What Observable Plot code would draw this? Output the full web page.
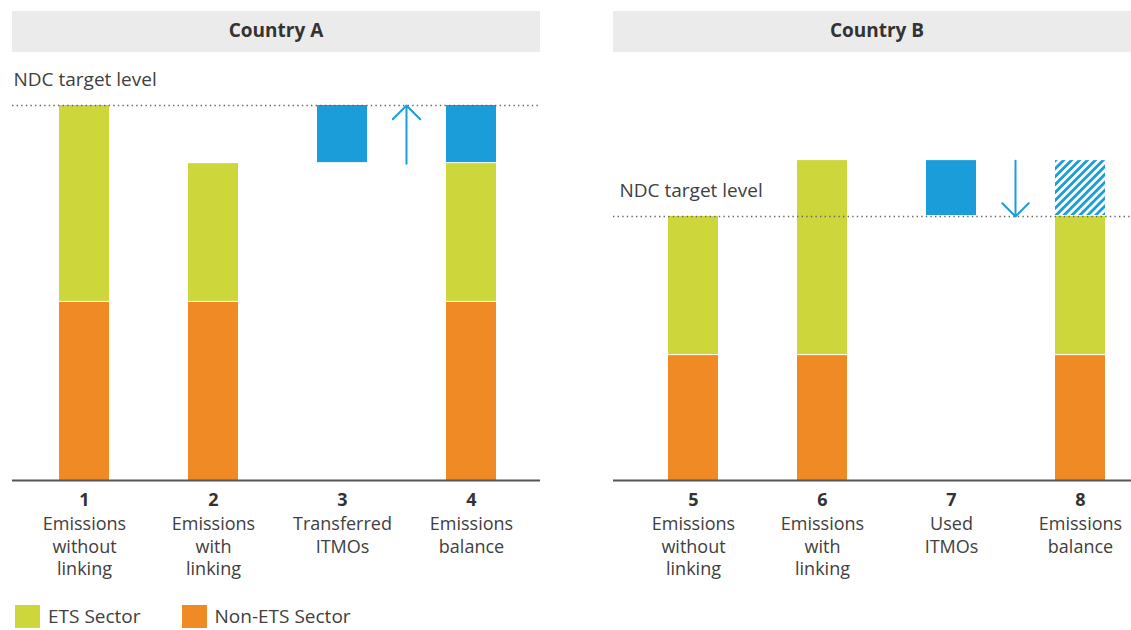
<!DOCTYPE html>
<html>
<head>
<meta charset="utf-8">
<script src="https://cdn.jsdelivr.net/npm/d3@7"></script>
<script src="https://cdn.jsdelivr.net/npm/@observablehq/plot@0.6"></script>
<style>
  body { margin: 0; background: #fff; font-family: "Open Sans", sans-serif; }
  #wrap { position: relative; width: 1131px; height: 630px; overflow: hidden; }
  .panel { position: absolute; top: 52px; }
  .panel svg { max-width: none !important; }
  .hdr { position: absolute; top: 11px; height: 41px; box-sizing: border-box; padding-bottom: 3px;
         background: #ebebeb; color: #333; font-weight: bold; font-size: 19px;
         display: flex; align-items: center; justify-content: center; }
  .legend { position: absolute; top: 605px; left: 15px; display: flex; align-items: flex-start; }
  .item { display: flex; align-items: flex-start; font-size: 19px; color: #404040; line-height: 19px; }
  .sw { width: 25px; height: 23px; margin-right: 8px; }
  .item span { padding-top: 2px; }
</style>
</head>
<body>
<div id="wrap"></div>
<script>
// ---- data ----
const barIds = ["1", "2", "3", "4", "5", "6", "7", "8"];
const barCountry = ["A", "A", "A", "A", "B", "B", "B", "B"];
const barLabels = [
  "Emissions\nwithout\nlinking", "Emissions\nwith\nlinking", "Transferred\nITMOs", "Emissions\nbalance",
  "Emissions\nwithout\nlinking", "Emissions\nwith\nlinking", "Used\nITMOs", "Emissions\nbalance"
];
const floatBase = [0, 0, 84.5, 0, 0, 0, 70.4, 0];        // invisible offset of the floating ITMO bars
const nonEtsValues = [47.5, 47.5, 0, 47.5, 33.3, 33.3, 0, 33.3];
const etsValues = [52.5, 37, 0, 37, 37.1, 52, 0, 37.1];
const itmoValues = [0, 0, 15.5, 15.5, 0, 0, 14.9, 14.9];
const itmoHatched = [false, false, false, false, false, false, false, true];
const countries = ["A", "B"];
const countryNames = ["Country A", "Country B"];
const ndcLevels = [100, 70.4];
const ndcLabel = "NDC target level";
const arrowBar = ["3", "7"];
const arrowStart = [84.5, 85.3];
const arrowEnd = [100, 70.4];
const legendNames = ["ETS Sector", "Non-ETS Sector"];

const colors = { ets: "#cdd63b", nonEts: "#ef8a25", itmo: "#1b9dd9" };

// ---- build stacked segments ----
const segments = [];
barIds.forEach((id, i) => {
  let y = floatBase[i];
  const parts = [["nonEts", nonEtsValues[i]], ["ets", etsValues[i]], [itmoHatched[i] ? "itmoHatch" : "itmo", itmoValues[i]]];
  for (const [type, v] of parts) {
    if (v > 0) segments.push({ id, country: barCountry[i], type, y1: y, y2: y + v });
    y += v;
  }
});

const layouts = [
  { left: 0, width: 560, ml: 12, mr: 20, range: [57, 497], arrowDx: 64, labelDx: 1, hdrLeft: 12 },
  { left: 560, width: 581, ml: 53, mr: 0, range: [107, 545], arrowDx: 64, labelDx: 6, hdrLeft: 613 }
];

const wrap = document.getElementById("wrap");

countries.forEach((c, ci) => {
  const L = layouts[ci];
  const ids = barIds.filter((d, i) => barCountry[i] === c);
  const segs = segments.filter(s => s.country === c);
  const labelOf = id => barLabels[barIds.indexOf(id)];
  const arrows = [{ id: arrowBar[ci], y1: arrowStart[ci], y2: arrowEnd[ci] }];

  const chart = Plot.plot({
    width: L.width, height: 555,
    marginLeft: L.ml, marginRight: L.mr, marginTop: 53, marginBottom: 127,
    x: { domain: ids, range: L.range, paddingInner: 0.615, paddingOuter: 0, axis: null },
    y: { domain: [0, 100], axis: null },
    style: { fontFamily: "'Open Sans', sans-serif", fontSize: "18px", color: "#404040", background: "transparent", overflow: "visible", maxWidth: "none" },
    marks: [
      Plot.rectY(segs.filter(s => s.type === "nonEts"), { x: "id", y1: "y1", y2: "y2", fill: colors.nonEts }),
      Plot.rectY(segs.filter(s => s.type === "ets"), { x: "id", y1: "y1", y2: "y2", fill: colors.ets, insetBottom: 1 }),
      Plot.rectY(segs.filter(s => s.type === "itmo"), { x: "id", y1: "y1", y2: "y2", fill: colors.itmo, insetBottom: 1 }),
      Plot.rectY(segs.filter(s => s.type === "itmoHatch"), { x: "id", y1: "y1", y2: "y2", fill: "url(#hatch)", insetBottom: 1 }),
      Plot.ruleY([ndcLevels[ci]], { stroke: "#666", strokeWidth: 1.6, strokeDasharray: "1.4,3.2" }),
      Plot.text([ndcLabel], { y: () => ndcLevels[ci], text: d => d, frameAnchor: "left", textAnchor: "start", lineAnchor: "bottom", dy: -20, dx: L.labelDx, fontSize: 19, fill: "#404040" }),
      Plot.ruleY([0], { stroke: "#555", strokeWidth: 2 }),
      Plot.arrow(arrows, { x: "id", y1: "y1", y2: "y2", dx: L.arrowDx, stroke: colors.itmo, strokeWidth: 2, headAngle: 90, headLength: 15 }),
      Plot.text(ids, { x: d => d, text: d => d, frameAnchor: "bottom", lineAnchor: "top", dy: 13, fontWeight: "bold", fill: "#333" }),
      Plot.text(ids, { x: d => d, text: labelOf, frameAnchor: "bottom", lineAnchor: "top", dy: 34, lineHeight: 22.5 / 18, fill: "#404040" })
    ]
  });
  chart.style.maxWidth = "none";

  // hatch pattern definition
  d3.select(chart).insert("defs", ":first-child").html(
    `<pattern id="hatch" patternUnits="userSpaceOnUse" width="5.6" height="5.6" patternTransform="rotate(45)">
       <rect width="5.6" height="5.6" fill="#fff"/>
       <rect width="2.8" height="5.6" fill="${colors.itmo}"/>
     </pattern>`);

  const hdr = document.createElement("div");
  hdr.className = "hdr";
  hdr.style.left = L.hdrLeft + "px";
  hdr.style.width = "528px";
  hdr.textContent = countryNames[ci];
  wrap.appendChild(hdr);

  const p = document.createElement("div");
  p.className = "panel";
  p.style.left = L.left + "px";
  p.style.width = L.width + "px";
  p.appendChild(chart);
  wrap.appendChild(p);
});

// legend
const legend = document.createElement("div");
legend.className = "legend";
[[legendNames[0], colors.ets, 0], [legendNames[1], colors.nonEts, 41]].forEach(([name, col, gap]) => {
  const it = document.createElement("div");
  it.className = "item";
  it.style.marginLeft = gap + "px";
  it.innerHTML = `<div class="sw" style="background:${col}"></div><span>${name}</span>`;
  legend.appendChild(it);
});
wrap.appendChild(legend);
</script>
</body>
</html>
